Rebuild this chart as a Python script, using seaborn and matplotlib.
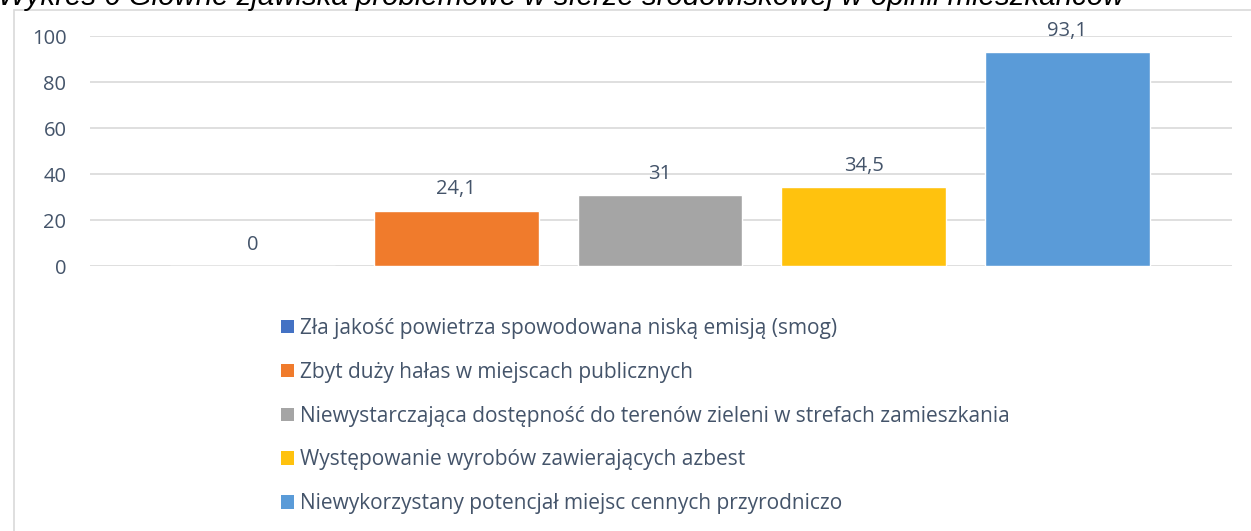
import matplotlib
matplotlib.use("Agg")
import matplotlib.pyplot as plt
import matplotlib.patches as mpatches
import seaborn as sns
import pandas as pd

title = "Wykres 6 Główne zjawiska problemowe w sferze środowiskowej w opinii mieszkańców"
categories = [
    "Zła jakość powietrza spowodowana niską emisją (smog)",
    "Zbyt duży hałas w miejscach publicznych",
    "Niewystarczająca dostępność do terenów zieleni w strefach zamieszkania",
    "Występowanie wyrobów zawierających azbest",
    "Niewykorzystany potencjał miejsc cennych przyrodniczo",
]
values = [0, 24.1, 31, 34.5, 93.1]
value_labels = ["0", "24,1", "31", "34,5", "93,1"]
colors = ["#4472C4", "#F07B2C", "#A5A5A5", "#FFC20E", "#5A9BD8"]
yticks = [0, 20, 40, 60, 80, 100]

text_col = "#44546A"

sns.set_theme(style="white")
plt.rcParams['font.family'] = ['Open Sans', 'DejaVu Sans']

df = pd.DataFrame({"cat": categories, "val": values})

fig = plt.figure(figsize=(12.51, 5.31), dpi=100)
# chart frame
fig.patches.append(mpatches.Rectangle((14 / 1251, -0.1), 1.2, 1 - 10 / 531 + 0.1,
                                      transform=fig.transFigure, fill=False,
                                      edgecolor="#D9D9D9", linewidth=1.2))
fig.text(-2 / 1251, 1 - 5 / 531, title, fontsize=21.2, style="italic",
         family="Liberation Sans", color="black", va="baseline", ha="left")

ax = fig.add_axes([90 / 1251, 1 - 266 / 531, (1232 - 90) / 1251, 230 / 531])
sns.barplot(data=df, x="cat", y="val", hue="cat", palette=colors, dodge=False,
            width=0.81, ax=ax, legend=False, saturation=1)

ax.set_xlim(-0.8, 4.81)
ax.set_ylim(0, 100)
ax.set_yticks(yticks)
ax.set_yticklabels([str(t) for t in yticks])
ax.set_xticks([])
ax.set_xlabel("")
ax.set_ylabel("")
ax.tick_params(axis="y", length=0, pad=17, labelsize=14.5, labelcolor=text_col)
ax.grid(axis="y", color="#D9D9D9", linewidth=1.2)
ax.set_axisbelow(True)
for s in ax.spines.values():
    s.set_visible(False)

for i, (v, lab) in enumerate(zip(values, value_labels)):
    ax.annotate(lab, (i, v), xytext=(0, 8), textcoords="offset points",
                ha="center", va="bottom", fontsize=14.5, color=text_col)

handles = [mpatches.Patch(facecolor=c, edgecolor="none") for c in colors]
fig.legend(handles, categories, loc="upper left",
           bbox_to_anchor=(262 / 1251, 1 - 299 / 531), frameon=False,
           fontsize=15, labelcolor=text_col, handlelength=0.62, handleheight=0.62,
           handletextpad=0.3, labelspacing=1.1)

fig.savefig("out.png", dpi=100)
